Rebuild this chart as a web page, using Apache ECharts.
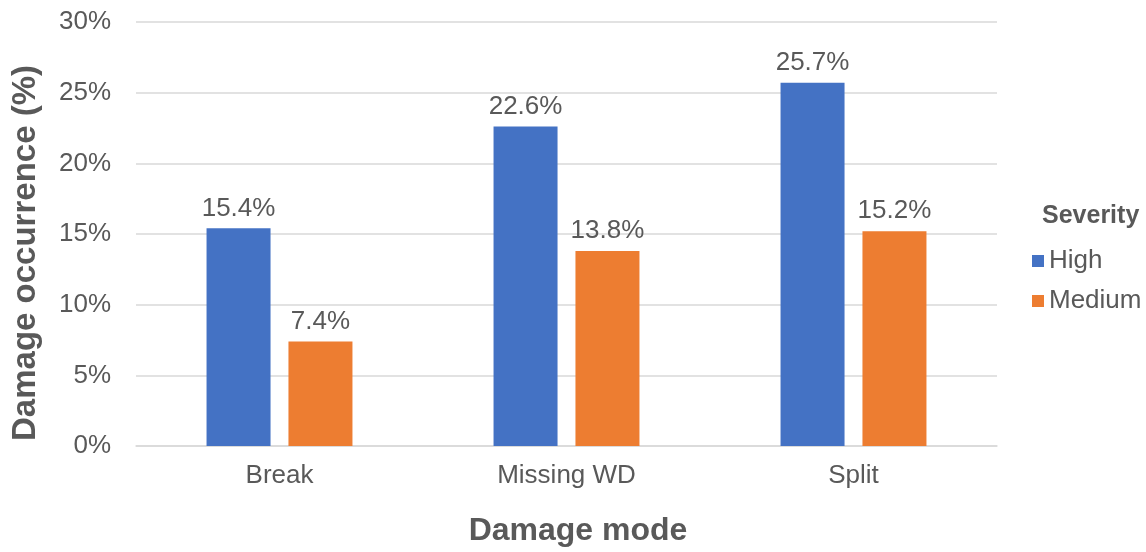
<!DOCTYPE html>
<html>
<head>
<meta charset="utf-8">
<script src="https://cdn.jsdelivr.net/npm/echarts@6/dist/echarts.min.js"></script>
<style>
  html, body { margin: 0; padding: 0; background: #ffffff; }
  #chart { width: 1146px; height: 552px; }
</style>
</head>
<body>
<div id="chart"></div>
<script>
// Damage occurrence by mode and severity
const categories = ['Break', 'Missing WD', 'Split'];
const highValues = [15.4, 22.6, 25.7];
const mediumValues = [7.4, 13.8, 15.2];
const seriesNames = ['High', 'Medium'];
const yTicks = [0, 5, 10, 15, 20, 25, 30];

const FONT = '"Liberation Sans", Arial, sans-serif';
const TEXT = '#595959';

const chart = echarts.init(document.getElementById('chart'), null, { renderer: 'canvas' });

const labelStyle = {
  show: true,
  position: 'top',
  distance: 7,
  color: TEXT,
  fontFamily: FONT,
  fontSize: 26,
  formatter: p => p.value.toFixed(1) + '%'
};

chart.setOption({
  animation: false,
  backgroundColor: '#ffffff',
  textStyle: { fontFamily: FONT },
  grid: { left: 136, right: 149, top: 22, bottom: 106, containLabel: false },
  legend: {
    orient: 'vertical',
    left: 1027,
    top: 243,
    itemWidth: 12,
    itemHeight: 12,
    itemGap: 14,
    icon: 'rect',
    data: seriesNames,
    textStyle: { color: TEXT, fontFamily: FONT, fontSize: 26, padding: [0, 0, 0, 0] }
  },
  xAxis: {
    type: 'category',
    data: categories,
    axisLine: { show: true, lineStyle: { color: '#d9d9d9', width: 1.5 } },
    axisTick: { show: false },
    axisLabel: { color: TEXT, fontFamily: FONT, fontSize: 26, margin: 17 }
  },
  yAxis: {
    type: 'value',
    min: yTicks[0],
    max: yTicks[yTicks.length - 1],
    interval: yTicks[1] - yTicks[0],
    axisLine: { show: false },
    axisTick: { show: false },
    axisLabel: { color: TEXT, fontFamily: FONT, fontSize: 26, margin: 25, formatter: v => v + '%' },
    splitLine: { lineStyle: { color: '#d9d9d9', width: 1.5 } }
  },
  graphic: [
    {
      type: 'text',
      x: 578, y: 531,
      style: { text: 'Damage mode', fill: TEXT, font: 'bold 32px ' + FONT, align: 'center', verticalAlign: 'middle' }
    },
    {
      type: 'text',
      x: 26, y: 253,
      rotation: Math.PI / 2,
      style: { text: 'Damage occurrence (%)', fill: TEXT, font: 'bold 33px ' + FONT, align: 'center', verticalAlign: 'middle' }
    },
    {
      type: 'text',
      x: 1042, y: 216,
      style: { text: 'Severity', fill: TEXT, font: 'bold 25px ' + FONT, align: 'left', verticalAlign: 'middle' }
    }
  ],
  series: [
    {
      name: seriesNames[0],
      type: 'bar',
      data: highValues,
      barWidth: 64,
      barGap: '28%',
      itemStyle: { color: '#4472C4' },
      label: labelStyle
    },
    {
      name: seriesNames[1],
      type: 'bar',
      data: mediumValues,
      barWidth: 64,
      barGap: '28%',
      itemStyle: { color: '#ED7D31' },
      label: labelStyle
    }
  ]
});
</script>
</body>
</html>
